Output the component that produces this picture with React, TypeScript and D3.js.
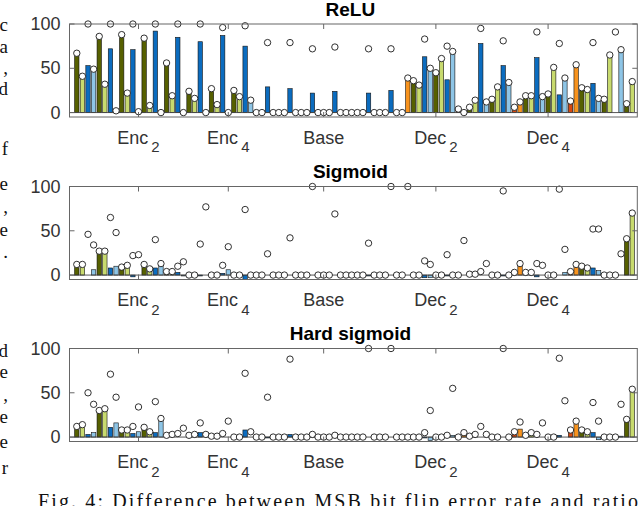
import * as d3 from "d3"

// bar order: encoder blocks (4 params per conv), then base/decoder blocks with up-conv (R, A)
const barKinds = (
  "OYBLOYBLOYBLOYBLOYBLOYBLOYBLOYBLOYBLOYBL" +
  "OYBLOYBLRAOYBLOYBLRAOYBLOYBLRAOYBLOYBLRAOYBLOYBLRA" +
  "OYBLOYBLOY"
).split("")

const kindColors: Record<string, string> = {
  O: "#566000",
  Y: "#c8da6e",
  B: "#0b6cbf",
  L: "#8ec5e6",
  R: "#d9480f",
  A: "#f7931e",
}

const tickIndex = [11, 27, 44, 64, 84]
const tickNames = ["Enc", "Enc", "Base", "Dec", "Dec"]
const tickSubs = ["2", "4", "", "2", "4"]
const yTicks = [0, 50, 100]

const reluBars = [
  67, 41, 53, 49, 86, 32, 72, 2, 88, 22, 71, 1, 84, 8, 92, 0, 56, 19, 85, 0,
  24, 16, 80, 0, 27, 9, 87, 0, 25, 18, 75, 14, 0, 0, 29, 0, 0, 0, 27, 0,
  0, 0, 22, 0, 0, 0, 24, 0, 0, 0, 0, 0, 22, 0, 0, 0, 25, 0, 0, 39,
  36, 31, 63, 50, 45, 61, 37, 69, 4, 0, 6, 14, 78, 12, 15, 29, 53, 34, 6, 12,
  19, 19, 62, 18, 21, 51, 20, 39, 13, 54, 28, 26, 33, 16, 15, 65, 0, 71, 10, 35,
]
const reluMarks = [
  67, 41, 100, 49, 86, 32, 100, 2, 88, 22, 100, 1, 84, 8, 100, 0, 56, 19, 100, 0,
  24, 16, 100, 0, 27, 9, 96, 0, 25, 18, 98, 14, 0, 0, 79, 0, 0, 0, 79, 0,
  0, 0, 72, 0, 0, 0, 74, 0, 0, 0, 0, 0, 72, 0, 0, 0, 72, 0, 0, 39,
  36, 31, 83, 50, 45, 61, 75, 69, 4, 0, 6, 14, 95, 12, 15, 29, 81, 34, 6, 12,
  19, 19, 91, 18, 21, 51, 78, 39, 13, 54, 28, 26, 79, 16, 15, 65, 91, 71, 10, 35,
]

const sigmoidBars = [
  12, 12, 0, 6, 27, 27, 8, 10, 9, 11, -2, 0, 12, 7, 8, 13, 4, 4, 3, -1,
  0, 0, -1, 0, 0, 0, 2, 6, 0, 0, -5, 0, 0, 0, 0, 0, 0, 0, 0, 0,
  0, 0, 0, 0, 0, 0, 0, 0, 0, 0, 0, 0, -1, 0, 0, 0, 0, 0, 0, 0,
  0, 0, -3, -3, 0, 0, -1, 0, 0, 0, 0, 0, 0, 0, 0, 0, -1, 0, 3, 13,
  3, 2, -2, 0, 0, 0, 0, 3, 4, 12, 10, 7, 8, 5, 0, 0, 0, 0, 41, 70,
]
const sigmoidMarks = [
  12, 12, 46, 34, 27, 27, 65, 48, 9, 11, 22, 23, 12, 7, 40, 13, 4, 4, 10, 15,
  0, 0, 35, 77, 0, 0, 11, 32, 0, 0, 74, 0, 0, 0, 24, 0, 0, 0, 42, 0,
  0, 0, 100, 0, 0, 0, 69, 0, 0, 0, 0, 0, 36, 0, 0, 0, 100, 0, 0, 100,
  0, 0, 16, 12, 0, 0, 23, 0, 0, 39, 1, 1, 4, 13, 0, 0, 95, 0, 3, 13,
  3, 3, 13, 11, 0, 0, 97, 29, 4, 12, 10, 8, 52, 52, 0, 0, 0, 24, 41, 70,
]

const hardBars = [
  12, 14, 3, 5, 30, 32, 11, 16, 8, 8, 4, 6, 11, 6, 5, 21, 0, 0, 0, 0,
  0, 3, 5, 0, 0, 0, 0, 0, 0, 0, 8, 0, 0, 0, -1, 0, 0, 0, 3, 0,
  0, 0, 3, 0, 0, 0, 1, 0, 0, 0, 0, 0, 0, 0, 0, 0, 0, 0, 0, 0,
  0, 0, -1, -4, 0, 0, 1, 2, 0, 5, 0, 3, 0, 0, 0, 0, 0, 0, 6, 9,
  0, 4, 0, 0, 0, 0, 2, 0, 8, 15, 8, 6, 5, -3, 0, 0, 0, 1, 20, 54,
]
const hardMarks = [
  12, 14, 50, 37, 30, 32, 71, 45, 8, 8, 12, 34, 11, 6, 40, 21, 2, 3, 4, 10,
  2, 3, 16, 3, 1, 1, 4, 18, 0, 0, 72, 6, 0, 0, 45, 0, 0, 0, 88, 0,
  0, 0, 3, 0, 0, 0, 2, 0, 0, 0, 0, 0, 100, 0, 0, 0, 100, 0, 0, 0,
  0, 0, 5, 30, 0, 0, 2, 55, 0, 5, 1, 3, 12, 3, 0, 0, 100, 0, 6, 17,
  2, 5, 3, 16, 0, 0, 89, 41, 8, 18, 8, 6, 39, 18, 0, 0, 0, 37, 20, 54,
]

// right-hand edge of the neighbouring text column
const sideChars = ["c", "a", ",", "d", "f", "e", ",", "e", ".", "d", "e", ",", "e", "e", "r"]
const sideLines = [31, 53, 74, 95, 155, 190, 213, 236, 258, 357, 378, 401, 423, 448, 474]

const caption = "Fig. 4: Difference between MSB bit flip error rate and ratio"

const sans = "'Liberation Sans', Arial, Helvetica, sans-serif"
const serif = "'Liberation Serif', 'Times New Roman', serif"

const left = 69.5
const right = 637.3
const panelHeight = 93

const x = d3.scaleLinear().domain([-1.3, 99.9]).range([left, right])
const barWidth = (x(1) - x(0)) * 0.78

function Panel({ title, bars, marks, top }: { title: string; bars: number[]; marks: number[]; top: number }) {
  const y = d3.scaleLinear().domain([-5, 100]).range([top + panelHeight, top])
  const y0 = y(0)
  return (
    <g>
      <text x={(left + right) / 2 - 3} y={top - 8.5} textAnchor="middle" fontFamily={sans} fontWeight="bold" fontSize={19} fill="#000">
        {title}
      </text>
      {bars.map((v, i) => (
        <rect
          key={"b" + i}
          x={x(i) - barWidth / 2}
          y={Math.min(y(v), y0)}
          width={barWidth}
          height={Math.abs(y(v) - y0)}
          fill={kindColors[barKinds[i]]}
          stroke="#111"
          strokeWidth={0.6}
        />
      ))}
      <line x1={left} x2={right} y1={y0} y2={y0} stroke="#444" strokeWidth={0.9} />
      {marks.map((v, i) => (
        <circle key={"m" + i} cx={x(i)} cy={y(v)} r={3.2} fill="#fff" stroke="#1a1a1a" strokeWidth={0.9} />
      ))}
      <rect x={left} y={top} width={right - left} height={panelHeight} fill="none" stroke="#666" strokeWidth={1} />
      {yTicks.map((t) => (
        <g key={"y" + t}>
          <line x1={left} x2={left + 5} y1={y(t)} y2={y(t)} stroke="#666" />
          <line x1={right - 5} x2={right} y1={y(t)} y2={y(t)} stroke="#666" />
          <text x={left - 9} y={y(t) + 6} textAnchor="end" fontFamily={sans} fontSize={18} fill="#333">
            {t}
          </text>
        </g>
      ))}
      {tickIndex.map((t, k) => (
        <g key={"x" + k}>
          <line x1={x(t)} x2={x(t)} y1={top} y2={top + 5} stroke="#666" />
          <line x1={x(t)} x2={x(t)} y1={top + panelHeight - 5} y2={top + panelHeight} stroke="#666" />
          <text x={x(t)} y={top + panelHeight + 26.5} textAnchor="middle" fontFamily={sans} fontSize={18} fill="#333">
            {tickNames[k]}
            {tickSubs[k] && (
              <tspan dx={3} dy={8.5} fontSize={15}>
                {tickSubs[k]}
              </tspan>
            )}
          </text>
        </g>
      ))}
    </g>
  )
}

export default function App() {
  return (
    <svg width={640} height={506} style={{ position: "absolute", left: 0, top: 0, background: "#fff" }}>
      <rect width={640} height={506} fill="#fff" />
      {sideChars.map((c, i) => (
        <text key={"s" + i} x={8} y={sideLines[i]} textAnchor="end" fontFamily={serif} fontSize={19} fill="#111">
          {c}
        </text>
      ))}
      <Panel title="ReLU" bars={reluBars} marks={reluMarks} top={24} />
      <Panel title="Sigmoid" bars={sigmoidBars} marks={sigmoidMarks} top={186.5} />
      <Panel title="Hard sigmoid" bars={hardBars} marks={hardMarks} top={348.5} />
      <text x={38} y={508} fontFamily={serif} fontSize={20} fill="#111" textLength={600} lengthAdjust="spacing">
        {caption}
      </text>
    </svg>
  )
}
